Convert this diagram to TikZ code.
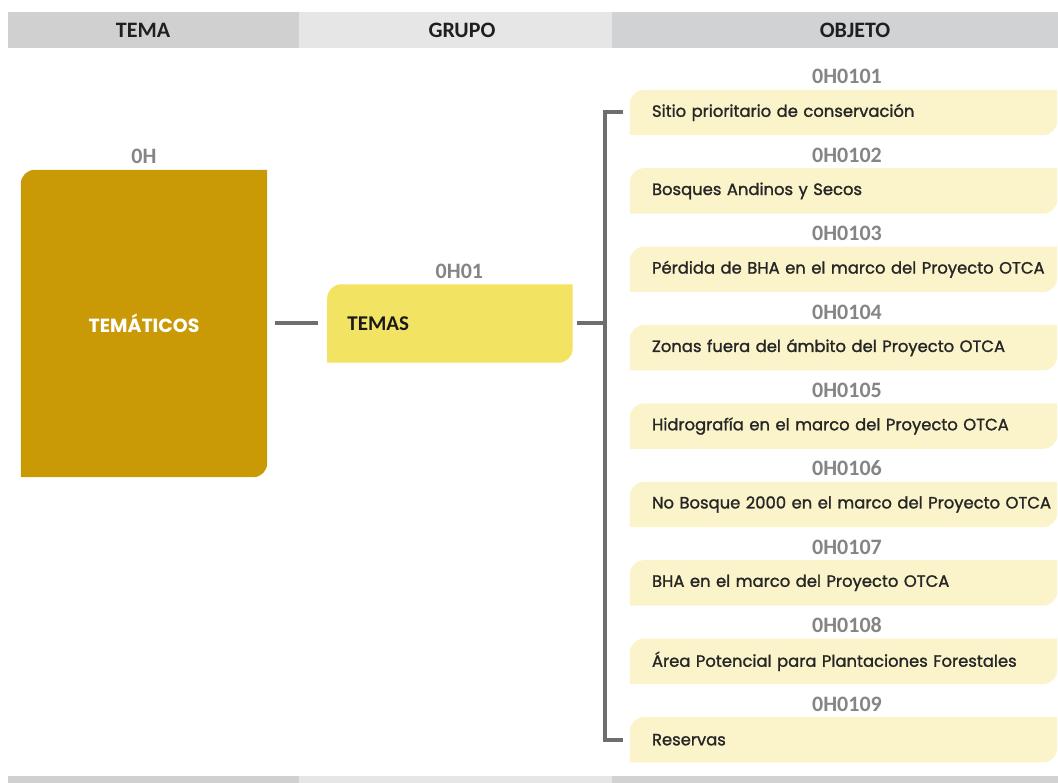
\documentclass[tikz,border=0pt]{standalone}
\usepackage{fontspec}
\setmainfont{Carlito}
\newfontfamily\gothic{Poppins}
\newfontfamily\gothicm[FakeBold=1.4]{Poppins}
\usetikzlibrary{positioning,backgrounds}

\definecolor{ocre}{HTML}{C99A06}
\definecolor{amarillo}{HTML}{F2E462}
\definecolor{crema}{HTML}{FBF4CB}
\definecolor{conector}{HTML}{6D6E70}
\definecolor{griscod}{HTML}{858585}
\definecolor{cabA}{HTML}{D0D0D0}
\definecolor{cabB}{HTML}{E6E6E6}
\definecolor{cabC}{HTML}{D1D2D4}

% caja con esquinas redondeadas arriba-izquierda y abajo-derecha
\newcommand\hoja[2]{%
    \fill[#2] (#1.south west) -- ([yshift=-14pt]#1.north west)
        arc[start angle=180, end angle=90, radius=14pt] -- (#1.north east)
        -- ([yshift=14pt]#1.south east)
        arc[start angle=0, end angle=-90, radius=14pt] -- cycle;}

\begin{document}
\begin{tikzpicture}[
        x=1pt, y=1pt,
        barra/.style={inner sep=0pt, minimum height=36pt}, % franjas de cabecera
        cab/.style={font=\bfseries\fontsize{22}{22}\selectfont, text=black!88},
        codigo/.style={font=\bfseries\fontsize{22}{22}\selectfont, text=griscod, inner sep=0pt},
        tema/.style={minimum width=246pt, minimum height=307pt, inner sep=0pt, text=white,
            font=\gothic\bfseries\fontsize{19}{19}\selectfont},
        grupo/.style={text width=205pt, inner xsep=20pt, minimum height=78pt, align=left,
            font=\bfseries\fontsize{21}{21}\selectfont, text=black!90},
        objeto/.style={text width=383pt, inner xsep=22pt, minimum height=45pt, align=left,
            font=\gothicm\fontsize{16.4}{16.4}\selectfont, text=black!85},
        link/.style={draw=conector, line width=4pt},
    ]

    \useasboundingbox (0,0) rectangle (1058,-783);

    % cabecera
    \node[barra, fill=cabA, minimum width=291pt] (hA) at (153.5,-30) {};
    \node[barra, fill=cabB, minimum width=313pt] (hB) at (455.5,-30) {};
    \node[barra, fill=cabC, minimum width=446pt] (hC) at (835,-30) {};
    \node[cab] (tA) at (143,-30) {TEMA};
    \node[cab] (tB) at (462,-30) {GRUPO};
    \node[cab] (tC) at (855,-30) {OBJETO};

    % franja inferior
    \fill[cabA] (8,-776) rectangle (299,-783);
    \fill[cabB] (299,-776) rectangle (612,-783);
    \fill[cabC] (612,-776) rectangle (1058,-783);

    \node[tema] (tema) at (144,-323.5) {TEMÁTICOS};
    \node[grupo, right=60pt of tema] (grupo) {TEMAS};
    \node[codigo, above=5.5pt of tema] (ctema) {0H};
    \node[codigo, above=5.5pt of grupo, xshift=9.5pt] (cgrupo) {0H01};

    \node[objeto] (o1) at (843.5,-112.5) {\mbox{Sitio prioritario de conservación}};
    \foreach \txt [count=\i from 2] in {Bosques Andinos y Secos,
            Pérdida de BHA en el marco del Proyecto OTCA,
            Zonas fuera del ámbito del Proyecto OTCA,
            Hidrografía en el marco del Proyecto OTCA,
            No Bosque 2000 en el marco del Proyecto OTCA,
            BHA en el marco del Proyecto OTCA,
            Área Potencial para Plantaciones Forestales,
            Reservas}{
        \pgfmathtruncatemacro\prev{\i-1}
        \node[objeto, below=33pt of o\prev] (o\i) {\mbox{\txt}};
    }
    \foreach \i in {1,...,9}
        \node[codigo, above=5.5pt of o\i, xshift=3.5pt] (c\i) {0H010\i};

    % fondos de las cajas
    \begin{scope}[on background layer]
        \hoja{tema}{ocre}
        \hoja{grupo}{amarillo}
        \foreach \i in {1,...,9} {\hoja{o\i}{crema}}
    \end{scope}

    % conectores
    \draw[link] ([xshift=8pt]tema.east) -- ([xshift=-9pt]tema.east -| grupo.west);
    \coordinate[left=25pt of o1.west] (eje);
    \draw[link] ([xshift=4pt]grupo.east) -- (grupo.east -| eje);
    \draw[link] ([xshift=-7pt]o1.west) -| ([xshift=-25pt]o9.west) -- ([xshift=-7pt]o9.west);
\end{tikzpicture}
\end{document}
